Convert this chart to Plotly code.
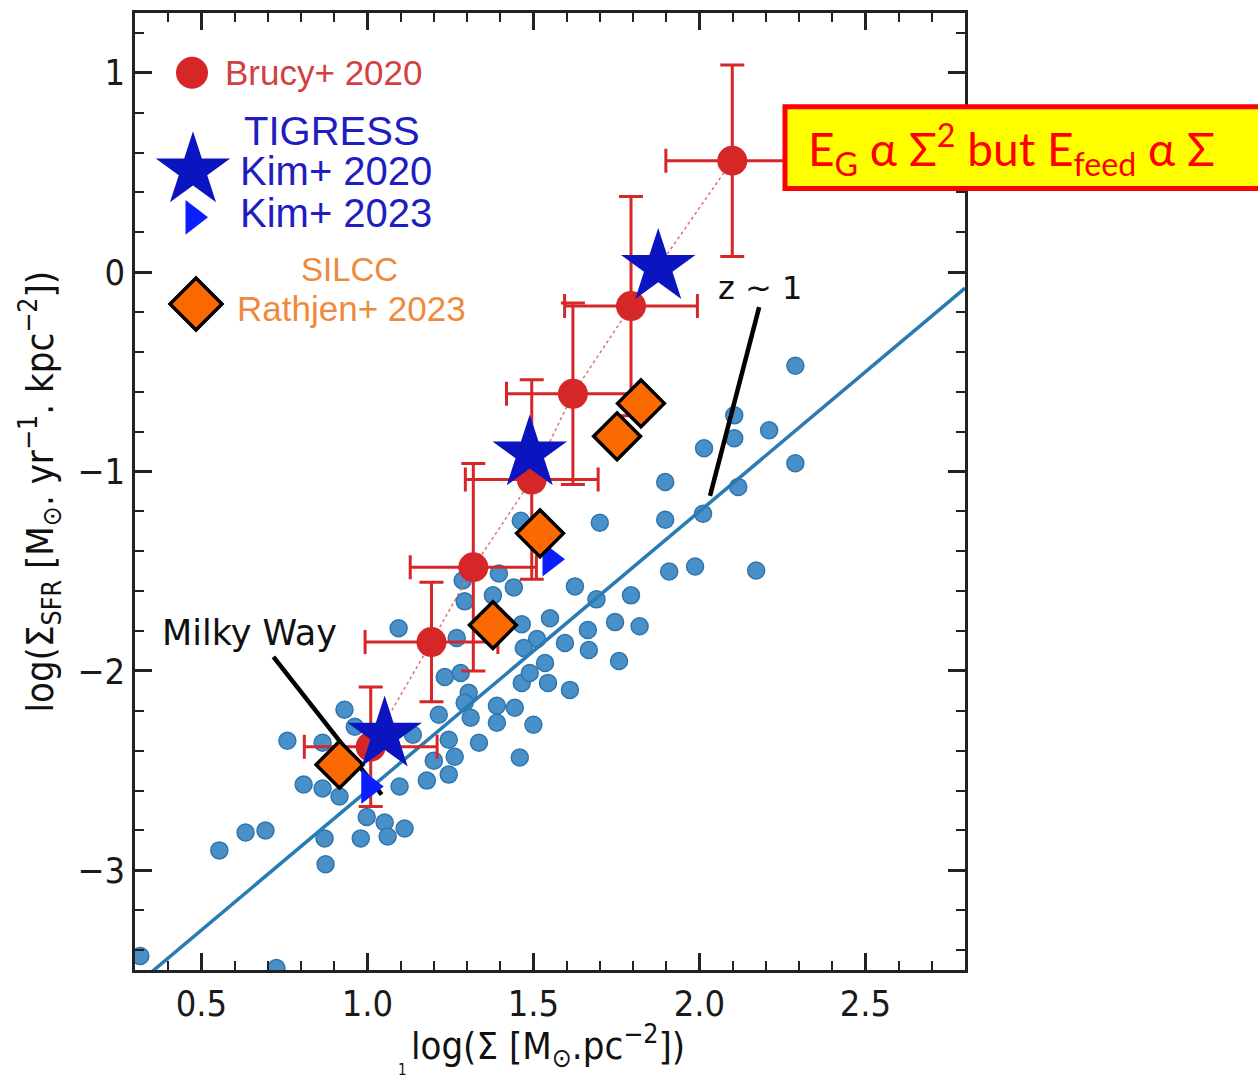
import plotly.graph_objects as go

# ---------------- data ----------------
# observed galaxies (light blue dots)
obs_x = [2.289, 2.105, 2.105, 2.21, 2.014, 2.289, 2.117, 1.897, 1.70, 1.897, 2.011, 1.909, 1.987, 2.171,
         1.625, 1.69, 1.794, 1.55, 1.664, 1.746, 1.82, 1.595, 1.667, 1.758, 1.535, 1.544, 1.61, 1.462,
         1.396, 1.441, 1.287, 1.293, 1.378, 1.094, 1.269, 1.465, 1.511, 1.471, 1.465, 1.489, 1.233, 1.281,
         1.305, 1.293, 1.39, 1.444, 1.215, 1.311, 1.39, 1.50, 1.336, 1.245, 1.263, 1.20, 1.245, 1.179,
         1.459, 1.137, 1.097, 0.931, 0.759, 0.865, 0.962, 0.808, 0.865, 0.916, 0.998, 1.052, 1.061, 1.112,
         0.98, 0.871, 0.874, 0.693, 0.633, 0.554, 0.316, 0.726]
obs_y = [-0.469, -0.718, -0.833, -0.793, -0.883, -0.958, -1.077, -1.052, -1.257, -1.242, -1.212, -1.501,
         -1.476, -1.496, -1.576, -1.641, -1.621, -1.736, -1.795, -1.755, -1.776, -1.86, -1.895, -1.95,
         -1.96, -2.06, -2.095, -1.247, -1.511, -1.581, -1.546, -1.651, -1.621, -1.786, -1.835, -1.766,
         -1.84, -1.885, -2.06, -2.01, -2.03, -2.01, -2.11, -2.16, -2.175, -2.185, -2.22, -2.235, -2.26,
         -2.27, -2.36, -2.345, -2.43, -2.45, -2.52, -2.55, -2.434, -2.32, -2.58, -2.195, -2.35, -2.36,
         -2.28, -2.57, -2.59, -2.63, -2.733, -2.76, -2.83, -2.79, -2.84, -2.84, -2.97, -2.80, -2.81,
         -2.90, -3.43, -3.49]

# Kennicutt-Schmidt relation endpoints
ks_x = [0.3, 2.8]
ks_y = [-3.58, -0.08]

# Brucy+ 2020
brucy_x = [1.010, 1.193, 1.319, 1.495, 1.619, 1.794, 2.099]
brucy_y = [-2.38, -1.855, -1.48, -1.04, -0.61, -0.17, 0.559]
brucy_xerr = [0.2, 0.2, 0.19, 0.2, 0.2, 0.2, 0.2]
brucy_yerr = [0.3, 0.3, 0.52, 0.5, 0.455, 0.55, 0.48]

# TIGRESS Kim+ 2020 (stars)
kim20_x = [1.052, 1.489, 1.876]
kim20_y = [-2.32, -0.91, 0.025]

# TIGRESS Kim+ 2023 (triangles)
kim23_x = [1.004, 1.55]
kim23_y = [-2.58, -1.44]

# SILCC Rathjen+ 2023 (diamonds)
rath_x = [0.916, 1.378, 1.52, 1.752, 1.824]
rath_y = [-2.47, -1.77, -1.31, -0.823, -0.658]

# annotation pointer lines
mw_line_x = [0.717, 1.043]
mw_line_y = [-1.93, -2.62]
z1_line_x = [2.180, 2.032]
z1_line_y = [-0.175, -1.122]

# ---------------- styling ----------------
W, H = 1258, 1079
L, R, T, B = 135, 293, 10, 109
XR = [0.3, 2.8]
YR = [-3.5, 1.3]

RED = '#d62728'
DOTBLUE = '#4a90c8'
LINEBLUE = '#2a7bb4'
STARBLUE = '#0a14bf'
TRIBLUE = '#0a1eff'
ORANGE = '#fb6a00'
ORANGE_TXT = '#ee8a3c'
TXT_FONT = 'DejaVu Sans Condensed, Liberation Sans Narrow, DejaVu Sans'


def pxx(p):
    return XR[0] + (p - L) / (W - L - R) * (XR[1] - XR[0])


def pxy(p):
    return YR[1] - (p - T) / (H - T - B) * (YR[1] - YR[0])


def papx(p):
    return (p - L) / (W - L - R)


def papy(p):
    return (H - B - p) / (H - T - B)


fig = go.Figure()

fig.add_trace(go.Scatter(x=obs_x, y=obs_y, mode='markers',
                         marker=dict(size=17, color=DOTBLUE, line=dict(color='#2f74ad', width=1.5)),
                         showlegend=False))
fig.add_trace(go.Scatter(x=ks_x, y=ks_y, mode='lines', line=dict(color=LINEBLUE, width=3.5),
                         showlegend=False))
# pointer lines
fig.add_trace(go.Scatter(x=mw_line_x, y=mw_line_y, mode='lines', line=dict(color='black', width=4.5),
                         showlegend=False))
fig.add_trace(go.Scatter(x=z1_line_x, y=z1_line_y, mode='lines', line=dict(color='black', width=4.5),
                         showlegend=False))
# Brucy dotted connection
fig.add_trace(go.Scatter(x=brucy_x, y=brucy_y, mode='lines', line=dict(color='#e07070', width=1.5, dash='dot'),
                         showlegend=False))
fig.add_trace(go.Scatter(x=brucy_x, y=brucy_y, mode='markers',
                         marker=dict(size=30, color=RED),
                         error_x=dict(type='data', array=brucy_xerr, color=RED, thickness=3, width=12),
                         error_y=dict(type='data', array=brucy_yerr, color=RED, thickness=3, width=12),
                         showlegend=False))
fig.add_trace(go.Scatter(x=kim20_x, y=kim20_y, mode='markers',
                         marker=dict(symbol='star', size=56, color=STARBLUE), showlegend=False))
fig.add_trace(go.Scatter(x=kim23_x, y=kim23_y, mode='markers',
                         marker=dict(symbol='triangle-right', size=30, color=TRIBLUE), showlegend=False))
fig.add_trace(go.Scatter(x=rath_x, y=rath_y, mode='markers',
                         marker=dict(symbol='diamond', size=36, color=ORANGE, line=dict(color='black', width=3.5)),
                         showlegend=False))

# legend icons (manual)
fig.add_trace(go.Scatter(x=[pxx(192)], y=[pxy(70)], mode='markers',
                         marker=dict(size=32, color=RED), showlegend=False))
fig.add_trace(go.Scatter(x=[pxx(193)], y=[pxy(168)], mode='markers',
                         marker=dict(symbol='star', size=56, color=STARBLUE), showlegend=False))
fig.add_trace(go.Scatter(x=[pxx(193)], y=[pxy(215)], mode='markers',
                         marker=dict(symbol='triangle-right', size=30, color=TRIBLUE), showlegend=False))
fig.add_trace(go.Scatter(x=[pxx(196)], y=[pxy(302)], mode='markers',
                         marker=dict(symbol='diamond', size=40, color=ORANGE, line=dict(color='black', width=3.5)),
                         showlegend=False))

ann = []
LEG = 'Liberation Sans, Arial'
ann.append(dict(x=papx(223), y=papy(70), xref='paper', yref='paper', text='Brucy+ 2020', showarrow=False,
                xanchor='left', yanchor='middle', font=dict(family=LEG, size=35, color='#d24040')))
ann.append(dict(x=papx(332), y=papy(128), xref='paper', yref='paper', text='TIGRESS', showarrow=False,
                xanchor='center', yanchor='middle', font=dict(family=LEG, size=40, color='#1e1ec0')))
ann.append(dict(x=papx(238), y=papy(168), xref='paper', yref='paper', text='Kim+ 2020', showarrow=False,
                xanchor='left', yanchor='middle', font=dict(family=LEG, size=40, color='#1e1ec0')))
ann.append(dict(x=papx(238), y=papy(211), xref='paper', yref='paper', text='Kim+ 2023', showarrow=False,
                xanchor='left', yanchor='middle', font=dict(family=LEG, size=40, color='#1e1ec0')))
ann.append(dict(x=papx(349), y=papy(267), xref='paper', yref='paper', text='SILCC', showarrow=False,
                xanchor='center', yanchor='middle', font=dict(family=LEG, size=33, color=ORANGE_TXT)))
ann.append(dict(x=papx(235), y=papy(306), xref='paper', yref='paper', text='Rathjen+ 2023', showarrow=False,
                xanchor='left', yanchor='middle', font=dict(family=LEG, size=35, color=ORANGE_TXT)))

ann.append(dict(x=papx(249), y=papy(632), xref='paper', yref='paper', text='Milky Way', showarrow=False,
                xanchor='center', yanchor='middle', font=dict(family='DejaVu Sans', size=35, color='#111')))
ann.append(dict(x=papx(760), y=papy(286), xref='paper', yref='paper', text='z ~ 1', showarrow=False,
                xanchor='center', yanchor='middle', font=dict(family='DejaVu Sans', size=32, color='#111')))

# axis titles
ann.append(dict(x=papx(40), y=papy(490), xref='paper', yref='paper', textangle=-90,
                text='log(Σ<sub>SFR</sub> [M<sub>⊙</sub>. yr<sup>−1</sup>. kpc<sup>−2</sup>])',
                showarrow=False, xanchor='center', yanchor='middle',
                font=dict(family=TXT_FONT, size=38, color='#111')))
ann.append(dict(x=papx(548), y=papy(1046), xref='paper', yref='paper',
                text='log(Σ [M<sub>⊙</sub>.pc<sup>−2</sup>])',
                showarrow=False, xanchor='center', yanchor='middle',
                font=dict(family=TXT_FONT, size=38, color='#111')))
ann.append(dict(x=papx(402), y=papy(1070), xref='paper', yref='paper', text='1', showarrow=False,
                xanchor='center', yanchor='middle', font=dict(family=TXT_FONT, size=15, color='#111')))

# highlighted box text
ann.append(dict(x=papx(806), y=papy(146), xref='paper', yref='paper',
                text='E<sub>G</sub> α Σ<sup>2</sup> but E<sub>feed</sub> α Σ', showarrow=False,
                xanchor='left', yanchor='middle', font=dict(family='Lato, Open Sans', size=46, color='#ff0000')))

shapes = [dict(type='rect', xref='paper', yref='paper', x0=papx(785), x1=papx(1275), y0=papy(104), y1=papy(186),
               fillcolor='#ffff00', line=dict(color='#ff0000', width=5), layer='above')]

axis_common = dict(showline=True, linecolor='#222', linewidth=2.5, mirror='allticks', ticks='inside',
                   ticklen=17, tickwidth=2.5, tickcolor='#222', showgrid=False, zeroline=False,
                   tickfont=dict(family=TXT_FONT, size=36, color='#1a1a1a'))

fig.update_layout(
    width=W, height=H, margin=dict(l=L, r=R, t=T, b=B),
    paper_bgcolor='white', plot_bgcolor='white',
    xaxis=dict(range=XR, tickvals=[0.5, 1.0, 1.5, 2.0, 2.5], ticktext=['0.5', '1.0', '1.5', '2.0', '2.5'],
               minor=dict(ticks='inside', dtick=0.1, tick0=0, ticklen=9, tickwidth=2, tickcolor='#222'),
               **axis_common),
    yaxis=dict(range=YR, tickvals=[-3, -2, -1, 0, 1], ticktext=['−3', '−2', '−1', '0', '1'],
               minor=dict(ticks='inside', dtick=0.2, tick0=0, ticklen=9, tickwidth=2, tickcolor='#222'),
               **axis_common),
    annotations=ann, shapes=shapes, showlegend=False,
)

fig.write_html('out.html')
